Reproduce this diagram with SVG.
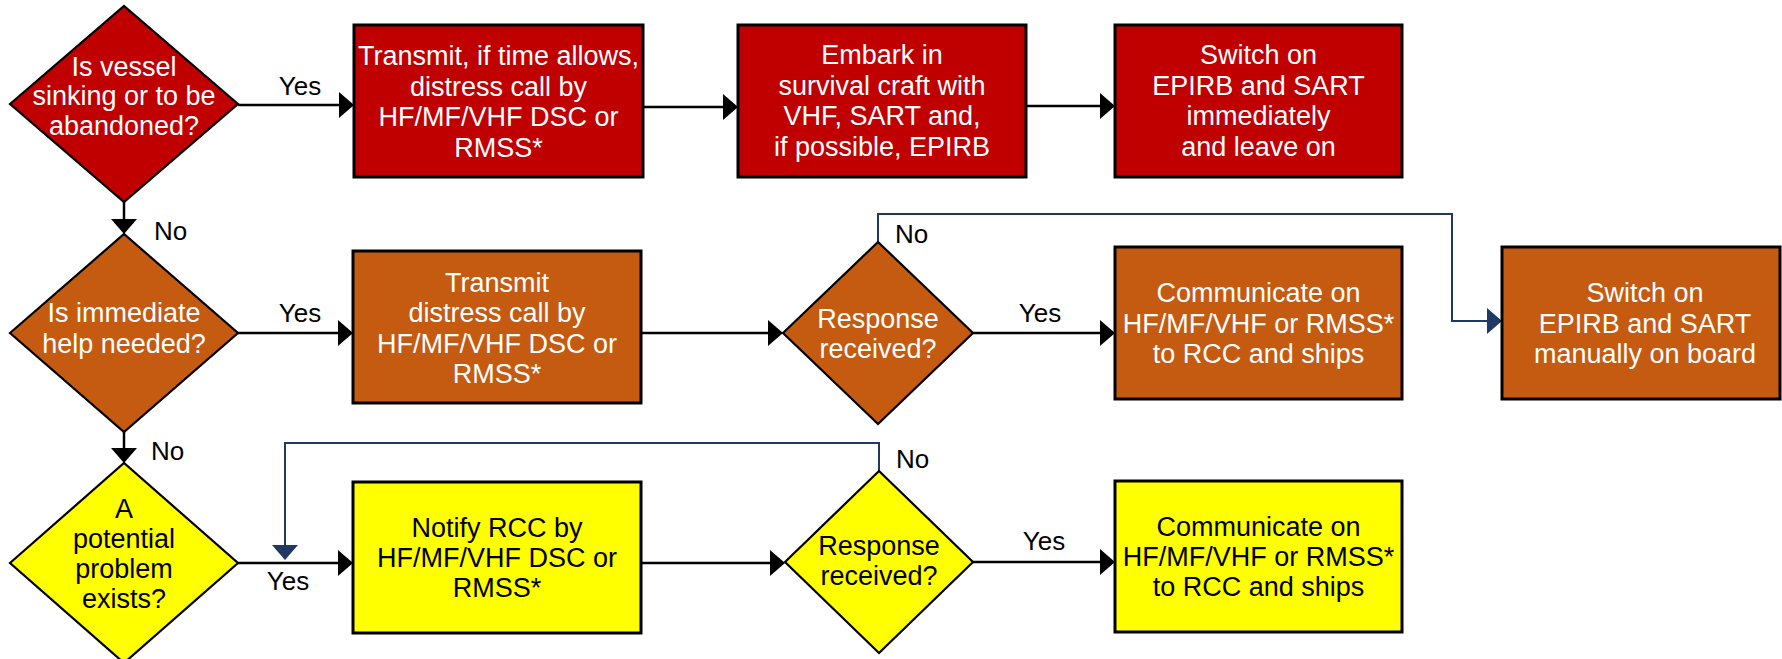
<svg xmlns="http://www.w3.org/2000/svg" width="1782" height="659" viewBox="0 0 1782 659">
<defs>
<style>
.t{font-family:"Liberation Sans",Arial,sans-serif;font-size:27px;text-anchor:middle}
.w{fill:#ffffff}
.k{fill:#000000}
.lbl{font-family:"Liberation Sans",Arial,sans-serif;font-size:26px;fill:#000000}
.box{stroke:#000000;stroke-width:3}
.dia{stroke:#000000;stroke-width:2.2}
.red{fill:#C00000}
.org{fill:#C55A11}
.yel{fill:#FFFF00}
.c{fill:none;stroke:#000000;stroke-width:2.5;marker-end:url(#ah)}
.cb{fill:none;stroke:#1F3864;stroke-width:2;marker-end:url(#ahb)}
</style>
<marker id="ah" viewBox="0 0 15 26" markerWidth="15" markerHeight="26" refX="7" refY="13" orient="auto" markerUnits="userSpaceOnUse"><path d="M0,0 L15,13 L0,26 z" fill="#000000"/></marker>
<marker id="ahb" viewBox="0 0 15 26" markerWidth="15" markerHeight="26" refX="7" refY="13" orient="auto" markerUnits="userSpaceOnUse"><path d="M0,0 L15,13 L0,26 z" fill="#1F3864"/></marker>
</defs>
<rect width="1782" height="659" fill="#ffffff"/>

<g id="connectors">
<path class="c" d="M238,105 H346"/>
<path class="c" d="M643,107 H730"/>
<path class="c" d="M1026,106 H1107"/>
<path class="c" d="M124,202 V226"/>
<path class="c" d="M238,333 H345"/>
<path class="c" d="M641,333 H775"/>
<path class="c" d="M973,333 H1107"/>
<path class="cb" d="M878,242 V214 H1452 V321 H1494"/>
<path class="c" d="M124,432 V455"/>
<path class="c" d="M238,563 H345"/>
<path class="c" d="M641,563 H777"/>
<path class="c" d="M973,562 H1107"/>
<path class="cb" d="M879,471 V443 H285 V552"/>
<text class="lbl" x="300" y="95" text-anchor="middle">Yes</text>
<text class="lbl" x="154" y="240">No</text>
<text class="lbl" x="300" y="322" text-anchor="middle">Yes</text>
<text class="lbl" x="895" y="243">No</text>
<text class="lbl" x="1040" y="322" text-anchor="middle">Yes</text>
<text class="lbl" x="151" y="460">No</text>
<text class="lbl" x="288" y="590" text-anchor="middle">Yes</text>
<text class="lbl" x="896" y="468">No</text>
<text class="lbl" x="1044" y="550" text-anchor="middle">Yes</text>
</g>

<g id="d1">
<polygon class="dia red" points="10,104 124,6 238,104 124,202"/>
<text class="t w" x="124"><tspan x="124" y="76">Is vessel</tspan><tspan x="124" y="105">sinking or to be</tspan><tspan x="124" y="135">abandoned?</tspan></text>
</g>
<g id="b1">
<rect class="box red" x="354" y="25" width="289" height="152"/>
<text class="t w"><tspan x="498.5" y="65">Transmit, if time allows,</tspan><tspan x="498.5" y="96">distress call by</tspan><tspan x="498.5" y="126">HF/MF/VHF DSC or</tspan><tspan x="498.5" y="157">RMSS*</tspan></text>
</g>
<g id="b2">
<rect class="box red" x="738" y="25" width="288" height="152"/>
<text class="t w"><tspan x="882" y="64">Embark in</tspan><tspan x="882" y="95">survival craft with</tspan><tspan x="882" y="125">VHF, SART and,</tspan><tspan x="882" y="156">if possible, EPIRB</tspan></text>
</g>
<g id="b3">
<rect class="box red" x="1115" y="25" width="287" height="152"/>
<text class="t w"><tspan x="1258.5" y="64">Switch on</tspan><tspan x="1258.5" y="95">EPIRB and SART</tspan><tspan x="1258.5" y="125">immediately</tspan><tspan x="1258.5" y="156">and leave on</tspan></text>
</g>

<g id="d2">
<polygon class="dia org" points="10,333 124,234 238,333 124,432"/>
<text class="t w"><tspan x="124" y="322">Is immediate</tspan><tspan x="124" y="353">help needed?</tspan></text>
</g>
<g id="b4">
<rect class="box org" x="353" y="251" width="288" height="152"/>
<text class="t w"><tspan x="497" y="292">Transmit</tspan><tspan x="497" y="322">distress call by</tspan><tspan x="497" y="353">HF/MF/VHF DSC or</tspan><tspan x="497" y="383">RMSS*</tspan></text>
</g>
<g id="d4">
<polygon class="dia org" points="783,333 878,242 973,333 878,424"/>
<text class="t w"><tspan x="878" y="328">Response</tspan><tspan x="878" y="358">received?</tspan></text>
</g>
<g id="b5">
<rect class="box org" x="1115" y="247" width="287" height="152"/>
<text class="t w"><tspan x="1258.5" y="302">Communicate on</tspan><tspan x="1258.5" y="333">HF/MF/VHF or RMSS*</tspan><tspan x="1258.5" y="363">to RCC and ships</tspan></text>
</g>
<g id="b6">
<rect class="box org" x="1502" y="247" width="278" height="152"/>
<text class="t w"><tspan x="1645" y="302">Switch on</tspan><tspan x="1645" y="333">EPIRB and SART</tspan><tspan x="1645" y="363">manually on board</tspan></text>
</g>

<g id="d3">
<polygon class="dia yel" points="10,563 124,463 238,563 124,663"/>
<text class="t k"><tspan x="124" y="518">A</tspan><tspan x="124" y="548">potential</tspan><tspan x="124" y="578">problem</tspan><tspan x="124" y="608">exists?</tspan></text>
</g>
<g id="b7">
<rect class="box yel" x="353" y="482" width="288" height="151"/>
<text class="t k"><tspan x="497" y="537">Notify RCC by</tspan><tspan x="497" y="567">HF/MF/VHF DSC or</tspan><tspan x="497" y="597">RMSS*</tspan></text>
</g>
<g id="d5">
<polygon class="dia yel" points="785,562 879,471 973,562 879,653"/>
<text class="t k"><tspan x="879" y="555">Response</tspan><tspan x="879" y="585">received?</tspan></text>
</g>
<g id="b8">
<rect class="box yel" x="1115" y="481" width="287" height="151"/>
<text class="t k"><tspan x="1258.5" y="536">Communicate on</tspan><tspan x="1258.5" y="566">HF/MF/VHF or RMSS*</tspan><tspan x="1258.5" y="596">to RCC and ships</tspan></text>
</g>
</svg>
